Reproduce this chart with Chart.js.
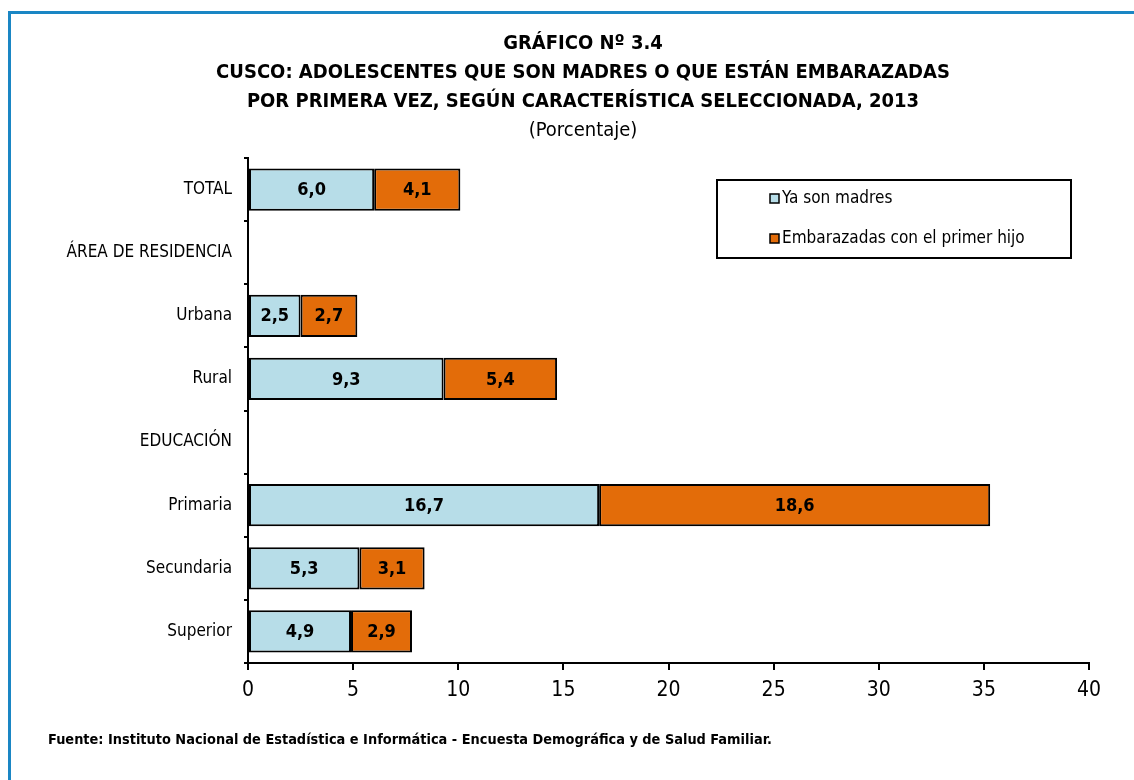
<!DOCTYPE html>
<html>
<head>
<meta charset="utf-8">
<script src="https://cdn.jsdelivr.net/npm/chart.js@4/dist/chart.umd.min.js"></script>
<style>
  html, body { margin: 0; padding: 0; background: #fff; }
  #wrap { position: relative; width: 1134px; height: 780px; overflow: hidden; }
  #frame { position: absolute; left: 8px; top: 11px; width: 1200px; height: 900px;
           border-left: 3px solid #1a86c4; border-top: 3px solid #1a86c4; box-sizing: border-box; }
  canvas { position: absolute; left: 0; top: 0; }
</style>
</head>
<body>
<div id="wrap">
  <div id="frame"></div>
  <canvas id="c" width="1134" height="780"></canvas>
</div>
<script>
const categories = ["TOTAL", "ÁREA DE RESIDENCIA", "Urbana", "Rural", "EDUCACIÓN", "Primaria", "Secundaria", "Superior"];
const yaSonMadres = [6.0, null, 2.5, 9.3, null, 16.7, 5.3, 4.9];
const embarazadas = [4.1, null, 2.7, 5.4, null, 18.6, 3.1, 2.9];
const seriesNames = ["Ya son madres", "Embarazadas con el primer hijo"];
const xTicks = [0, 5, 10, 15, 20, 25, 30, 35, 40];
const titleLines = ["GRÁFICO Nº 3.4", "CUSCO: ADOLESCENTES QUE SON MADRES O QUE ESTÁN EMBARAZADAS", "POR PRIMERA VEZ, SEGÚN CARACTERÍSTICA SELECCIONADA, 2013"];
const subtitleText = "(Porcentaje)";
const sourceText = "Fuente: Instituto Nacional de Estadística e Informática - Encuesta Demográfica y de Salud Familiar.";

const FONT = '"Liberation Sans Narrow", "Arial Narrow", "DejaVu Sans Condensed", "Liberation Sans", sans-serif';

const decorPlugin = {
  id: 'decor',
  afterDraw(chart) {
    const ctx = chart.ctx;
    ctx.save();
    ctx.fillStyle = '#000';
    ctx.textAlign = 'center';
    ctx.textBaseline = 'middle';
    const cx = 583;
    const ys = [44, 73, 102];
    ctx.font = 'bold 20px ' + FONT;
    titleLines.forEach((t, i) => ctx.fillText(t, cx, ys[i]));
    ctx.font = '20px ' + FONT;
    ctx.fillText(subtitleText, cx, 131);
    ctx.textAlign = 'left';
    ctx.font = 'bold 14.4px ' + FONT;
    ctx.fillText(sourceText, 48, 740);

    // data labels
    ctx.textAlign = 'center';
    ctx.font = 'bold 18px ' + FONT;
    chart.data.datasets.forEach((ds, di) => {
      const meta = chart.getDatasetMeta(di);
      meta.data.forEach((bar, i) => {
        const v = ds.data[i];
        if (v === null || v === undefined) return;
        const p = bar.getProps(['x', 'y', 'base'], true);
        const mx = (p.x + p.base) / 2;
        ctx.fillText(v.toFixed(1).replace('.', ','), mx, p.y + 1);
      });
    });

    // legend box
    const lx = 717, ly = 180, lw = 354, lh = 78;
    ctx.lineWidth = 2;
    ctx.strokeStyle = '#000';
    ctx.strokeRect(lx, ly, lw, lh);
    ctx.textAlign = 'left';
    ctx.font = '17px ' + FONT;
    const itemY = [199, 239];
    chart.data.datasets.forEach((ds, di) => {
      const y = itemY[di];
      ctx.fillStyle = ds.backgroundColor;
      ctx.fillRect(770, y - 5, 9, 9);
      ctx.lineWidth = 1.5;
      ctx.strokeStyle = '#000';
      ctx.strokeRect(770, y - 5, 9, 9);
      ctx.fillStyle = '#000';
      ctx.fillText(ds.label, 782, y);
    });
    ctx.restore();
  }
};

new Chart(document.getElementById('c'), {
  type: 'bar',
  data: {
    labels: categories,
    datasets: [
      { label: seriesNames[0], data: yaSonMadres, backgroundColor: '#b7dde8', borderColor: '#000', borderWidth: 2, borderSkipped: false, barPercentage: 0.67, categoryPercentage: 1.0 },
      { label: seriesNames[1], data: embarazadas, backgroundColor: '#e36c09', borderColor: '#000', borderWidth: 2, borderSkipped: false, barPercentage: 0.67, categoryPercentage: 1.0 }
    ]
  },
  options: {
    indexAxis: 'y',
    responsive: false,
    animation: false,
    devicePixelRatio: 1,
    layout: { padding: { top: 158, right: 45, bottom: 0, left: 0 } },
    plugins: { legend: { display: false }, title: { display: false }, tooltip: { enabled: false } },
    scales: {
      y: {
        stacked: true,
        grid: { display: true, drawOnChartArea: false, drawTicks: true, tickLength: 4, color: '#000', lineWidth: 2, offset: true },
        border: { display: true, color: '#000', width: 2 },
        ticks: { color: '#000', font: { family: FONT, size: 17 }, padding: 12 },
        afterFit(scale) { scale.width = 248; }
      },
      x: {
        stacked: true,
        min: 0, max: 40,
        afterBuildTicks(scale) { scale.ticks = xTicks.map(v => ({ value: v })); },
        grid: { display: true, drawOnChartArea: false, drawTicks: true, tickLength: 7, color: '#000', lineWidth: 2 },
        border: { display: true, color: '#000', width: 2 },
        ticks: { color: '#000', font: { family: FONT, size: 21 }, padding: 8, maxRotation: 0 },
        afterFit(scale) { scale.height = 117; }
      }
    }
  },
  plugins: [decorPlugin]
});
</script>
</body>
</html>
